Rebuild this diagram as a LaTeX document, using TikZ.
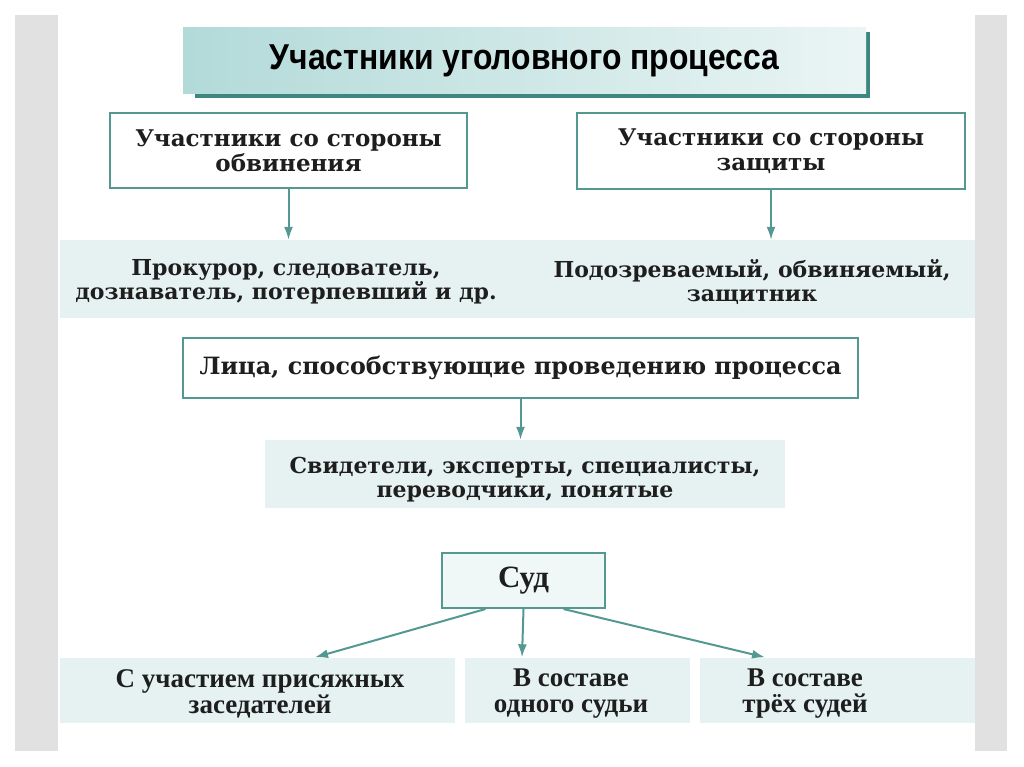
\documentclass[tikz,border=0pt]{standalone}
\usepackage{fontspec}
\setmainfont{Liberation Serif}
\newfontfamily\boxfont{DejaVu Serif}
\newfontfamily\titlefont{Liberation Sans}
\usetikzlibrary{arrows.meta}
\definecolor{tealline}{RGB}{84,152,146}
\definecolor{tealdark}{RGB}{62,135,128}
\definecolor{bandfill}{RGB}{229,242,241}
\definecolor{titleL}{RGB}{178,218,217}
\definecolor{titleR}{RGB}{234,245,244}
\definecolor{sidegray}{RGB}{225,225,225}
\definecolor{txt}{RGB}{30,30,30}
\begin{document}
\begin{tikzpicture}[x=1pt,y=-1pt,
  box/.style={draw=tealline,line width=2pt,fill=white,inner sep=0pt,align=center,text=txt,
    font=\boxfont\bfseries\fontsize{23}{25}\selectfont},
  band/.style={fill=bandfill,draw=none,inner sep=0pt},
  wtxt/.style={inner sep=0pt,align=center,text=txt,font=\boxfont\bfseries\fontsize{22}{24}\selectfont},
  ttxt/.style={inner sep=0pt,align=center,text=txt,font=\bfseries\fontsize{27}{26}\selectfont},
  arr/.style={draw=tealline,line width=2pt,-{Latex[length=13pt,width=9pt]}}]
\useasboundingbox (0,0) rectangle (1024,767);
\fill[white] (0,0) rectangle (1024,767);
\fill[sidegray] (15,15) rectangle (58,751);
\fill[sidegray] (975,15) rectangle (1007,751);
% title
\fill[tealdark] (195,32) rectangle (870,98);
\node[shade,left color=titleL,right color=titleR,minimum width=683pt,minimum height=66pt,inner sep=0pt,
  font=\titlefont\bfseries\fontsize{36}{38}\selectfont,text=black] (title) at (524.5,61) {\scalebox{0.885}[1]{Участники уголовного процесса}};
% top boxes
\node[box,minimum width=357pt,minimum height=75pt] (b1) at (288.5,150.5) {Участники со стороны\\обвинения};
\node[box,minimum width=388pt,minimum height=76pt] (b2) at (771,151) {Участники со стороны\\защиты};
% band 1
\node[band,minimum width=915pt,minimum height=78pt] (band1) at (517.5,279) {};
\node[wtxt] (t1) at (286,282) {Прокурор, следователь,\\дознаватель, потерпевший и др.};
\node[wtxt] (t2) at (752,282) {Подозреваемый, обвиняемый,\\защитник};
\draw[arr] (b1.south) -- (b1.south |- band1.north);
\draw[arr] (b2.south) -- (b2.south |- band1.north);
% box 3
\node[box,minimum width=675pt,minimum height=60pt,font=\boxfont\bfseries\fontsize{23.8}{25}\selectfont] (b3) at (520.5,368) {Лица, способствующие проведению процесса};
\node[band,minimum width=520pt,minimum height=68pt] (band2) at (525,474) {};
\node[wtxt] (t3) at (525,480) {Свидетели, эксперты, специалисты,\\переводчики, понятые};
\draw[arr] (b3.south) -- (b3.south |- band2.north);
% court
\node[box,fill=bandfill!60,minimum width=163pt,minimum height=55pt,font=\bfseries\fontsize{31}{32}\selectfont] (sud) at (523.5,580.5) {Суд};
\node[band,minimum width=395pt,minimum height=65pt] (c1) at (257.5,690) {};
\node[band,minimum width=225pt,minimum height=65pt] (c2) at (577.5,690) {};
\node[band,minimum width=275pt,minimum height=65pt] (c3) at (837.5,690) {};
\node[ttxt] (u1) at (260,694) {С участием присяжных\\заседателей};
\node[ttxt] (u2) at (571,694) {В составе\\одного судьи};
\node[ttxt] (u3) at (805,694) {В составе\\трёх судей};
\draw[arr] ([xshift=-38pt]sud.south) -- ([xshift=57.5pt]c1.north);
\draw[arr] (sud.south) -- ([xshift=-55.5pt]c2.north);
\draw[arr] ([xshift=40pt]sud.south) -- ([xshift=-72.5pt]c3.north);
\end{tikzpicture}
\end{document}
